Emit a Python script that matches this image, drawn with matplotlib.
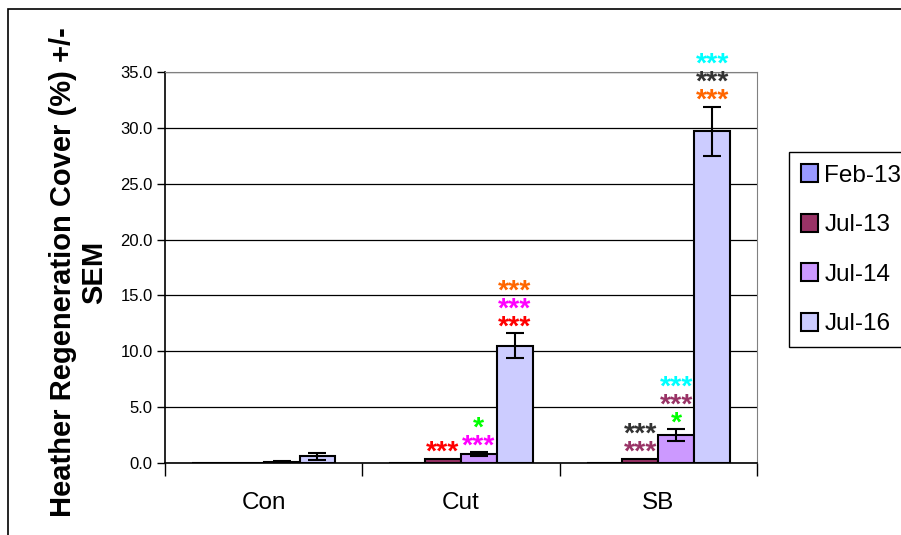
import matplotlib.pyplot as plt
import numpy as np
from matplotlib.patches import Rectangle

plt.rcParams['font.family'] = ['Liberation Sans', 'DejaVu Sans']

# data
groups = ['Con', 'Cut', 'SB']
series = ['Feb-13', 'Jul-13', 'Jul-14', 'Jul-16']
feb13 = [0.0, 0.0, 0.0]
jul13 = [0.02, 0.35, 0.35]
jul14 = [0.1, 0.8, 2.5]
jul16 = [0.6, 10.5, 29.7]
err_feb13 = [0.0, 0.0, 0.0]
err_jul13 = [0.0, 0.0, 0.0]
err_jul14 = [0.05, 0.15, 0.5]
err_jul16 = [0.3, 1.1, 2.2]
colors = ['#9999FF', '#993366', '#CC99FF', '#CCCCFF']

# significance marks, stacked from the bar upward: (group, series, text, colour)
stars = [
    (1, 1, '***', '#FF0000'),
    (1, 2, '***', '#FF00FF'), (1, 2, '*', '#00FF00'),
    (1, 3, '***', '#FF0000'), (1, 3, '***', '#FF00FF'), (1, 3, '***', '#FF6600'),
    (2, 1, '***', '#993366'), (2, 1, '***', '#333333'),
    (2, 2, '*', '#00FF00'), (2, 2, '***', '#993366'), (2, 2, '***', '#00FFFF'),
    (2, 3, '***', '#FF6600'), (2, 3, '***', '#333333'), (2, 3, '***', '#00FFFF'),
]

values = [feb13, jul13, jul14, jul16]
errors = [err_feb13, err_jul13, err_jul14, err_jul16]

fig = plt.figure(figsize=(9.01, 5.35), dpi=100)
fig.patches.append(Rectangle((8 / 901, -0.1), 2, 1.1 - 9 / 535, transform=fig.transFigure,
                             fill=False, edgecolor='black', linewidth=1.2))
ax = fig.add_axes([165 / 901, 72 / 535, 592 / 901, 391 / 535])

x = np.arange(len(groups))
w = 1 / 5.5
for i, s in enumerate(series):
    pos = x + (i - 1.5) * w
    ax.bar(pos, values[i], width=w, color=colors[i], edgecolor='black', linewidth=1.5,
           label=s, zorder=3)
    nz = np.array(errors[i]) > 0
    ax.errorbar(pos[nz], np.array(values[i])[nz], yerr=np.array(errors[i])[nz], fmt='none',
                ecolor='black', elinewidth=1.5, capsize=6.5, capthick=1.5, zorder=4)

level = {}
for g, si, txt, col in stars:
    k = (g, si)
    n = level.get(k, 0)
    level[k] = n + 1
    top = values[si][g] + errors[si][g]
    ax.annotate(txt, xy=(g + (si - 1.5) * w, top), xytext=(0, 14 + 18 * n - 15),
                textcoords='offset pixels', ha='center', va='baseline', color=col,
                fontsize=20.5, fontweight='bold', annotation_clip=False, zorder=5)

ax.set_xlim(-0.5, 2.5)
ax.set_ylim(0, 35)
ax.set_yticks(np.arange(0, 35.1, 5))
ax.set_yticklabels(['%.1f' % v for v in np.arange(0, 35.1, 5)], fontsize=12)
ax.yaxis.grid(True, color='black', linewidth=0.9, zorder=0)
ax.set_axisbelow(True)
ax.tick_params(axis='y', direction='out', length=6, width=1, pad=3)

ax.set_xticks(x)
ax.set_xticklabels(groups, fontsize=17.5)
ax.tick_params(axis='x', which='major', length=0, pad=21)
ax.set_xticks([-0.5, 0.5, 1.5, 2.5], minor=True)
ax.tick_params(axis='x', which='minor', direction='out', length=9, width=1)

for side in ['top', 'right']:
    ax.spines[side].set_color('#808080')
    ax.spines[side].set_linewidth(0.8)
ax.spines['left'].set_linewidth(1.2)
ax.spines['bottom'].set_linewidth(1.2)

fig.text(79 / 901, 1 - 272 / 535, 'Heather Regeneration Cover (%) +/-\nSEM', rotation=90,
         ha='center', va='center', fontsize=21, fontweight='bold', linespacing=1.15)

leg = fig.legend(loc='upper left', bbox_to_anchor=(789 / 901, 1 - 152 / 535), fontsize=17.5,
                 frameon=True, fancybox=False, edgecolor='black', framealpha=1,
                 handlelength=0.7, handleheight=0.75, handletextpad=0.25,
                 labelspacing=1.12, borderpad=0.5, borderaxespad=0)
leg.get_frame().set_linewidth(1)

fig.savefig('out.png', dpi=100)
